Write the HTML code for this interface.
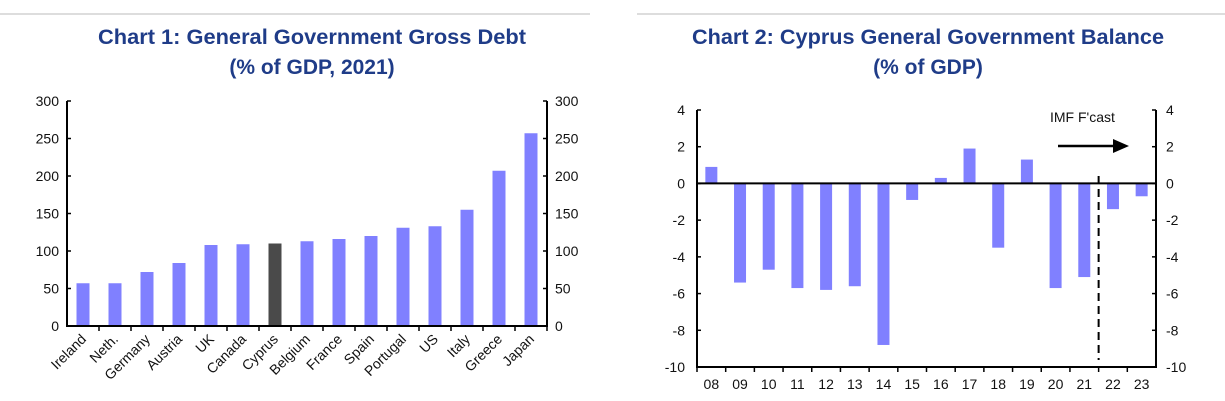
<!DOCTYPE html>
<html><head><meta charset="utf-8"><style>
body{margin:0;background:#fff;width:1225px;height:401px;overflow:hidden}
svg{display:block;font-family:"Liberation Sans",sans-serif}
</style></head><body>
<svg id="s" width="1225" height="401">
<line x1="0" y1="14" x2="590" y2="14" stroke="#bbb"/>
<line x1="637" y1="14" x2="1225" y2="14" stroke="#bbb"/>
<g font-family="Liberation Sans,sans-serif" font-weight="bold" font-size="21" fill="#1f3c88" text-anchor="middle">
<text x="312" y="44" textLength="428" lengthAdjust="spacingAndGlyphs">Chart 1: General Government Gross Debt</text>
<text x="312" y="74">(% of GDP, 2021)</text>
<text x="928" y="44" textLength="472" lengthAdjust="spacingAndGlyphs">Chart 2: Cyprus General Government Balance</text>
<text x="928" y="74">(% of GDP)</text>
</g>
<g id="c1"></g>
<g id="c2"></g>
</svg>
<script>
const countries=["Ireland","Neth.","Germany","Austria","UK","Canada","Cyprus","Belgium","France","Spain","Portugal","US","Italy","Greece","Japan"];
const debt=[57,57,72,84,108,109,110,113,116,120,131,133,155,207,257];
const debtTicks=[0,50,100,150,200,250,300];
const years=["08","09","10","11","12","13","14","15","16","17","18","19","20","21","22","23"];
const balance=[0.9,-5.4,-4.7,-5.7,-5.8,-5.6,-8.8,-0.9,0.3,1.9,-3.5,1.3,-5.7,-5.1,-1.4,-0.7];
const balTicks=[4,2,0,-2,-4,-6,-8,-10];
const NS="http://www.w3.org/2000/svg";
function mk(p,t,a){const e=document.createElementNS(NS,t);for(const k in a)e.setAttribute(k,a[k]);p.appendChild(e);return e;}
(function(){
const g=document.getElementById('c1');
const L=67,R=547,T=101,B=326,max=300;
const y=v=>B-(v/max)*(B-T);
const bw=(R-L)/countries.length;
const x=i=>L+bw*(i+0.5);
countries.forEach((c,i)=>{
const r=mk(g,'rect',{x:x(i)-6.5,y:y(debt[i]),width:13,height:B-y(debt[i]),fill:c==="Cyprus"?"#4a4a4a":"#8080ff"});


const t=mk(g,'text',{x:x(i)+4,y:B+14,'font-size':14,fill:'#111','text-anchor':'end',transform:`rotate(-45 ${x(i)+4} ${B+14})`});
t.textContent=c;


const tk=mk(g,'line',{x1:L+bw*(i+1),x2:L+bw*(i+1),y1:B,y2:B+5,stroke:'#000','stroke-width':1.5});


});
debtTicks.forEach(v=>{
const a=mk(g,'text',{x:L-8,y:y(v)+5,'font-size':14,'text-anchor':'end',fill:'#111'});a.textContent=v;


const b=mk(g,'text',{x:R+8,y:y(v)+5,'font-size':14,fill:'#111'});b.textContent=v;


mk(g,'line',{x1:L,x2:L+4,y1:y(v),y2:y(v),stroke:'#000','stroke-width':1.5});
mk(g,'line',{x1:R-4,x2:R,y1:y(v),y2:y(v),stroke:'#000','stroke-width':1.5});
});
const ax=mk(g,'path',{d:`M${L} ${T}V${B}H${R}V${T}`,fill:'none',stroke:'#000','stroke-width':2});


})();
(function(){
const g=document.getElementById('c2');
const L=697,R=1156,T=110,B=367,vmax=4,vmin=-10;
const y=v=>T+(vmax-v)/(vmax-vmin)*(B-T);
const bw=(R-L)/years.length;
const x=i=>L+bw*(i+0.5);
years.forEach((yr,i)=>{
const v=balance[i];
const r=mk(g,'rect',{x:x(i)-6,y:Math.min(y(v),y(0)),width:12,height:Math.abs(y(v)-y(0)),fill:'#8080ff'});


const t=mk(g,'text',{x:x(i),y:B+22,'font-size':14,'text-anchor':'middle',fill:'#111'});t.textContent=yr;


mk(g,'line',{x1:L+bw*i,x2:L+bw*i,y1:B,y2:B+5,stroke:'#000','stroke-width':1.5});
});
balTicks.forEach(v=>{
const a=mk(g,'text',{x:L-12,y:y(v)+5,'font-size':14,'text-anchor':'end',fill:'#111'});a.textContent=v;


const b=mk(g,'text',{x:R+10,y:y(v)+5,'font-size':14,fill:'#111'});b.textContent=v;


mk(g,'line',{x1:L,x2:L+4,y1:y(v),y2:y(v),stroke:'#000','stroke-width':1.5});
mk(g,'line',{x1:R-4,x2:R,y1:y(v),y2:y(v),stroke:'#000','stroke-width':1.5});
});
const z=mk(g,'line',{x1:L,x2:R,y1:y(0),y2:y(0),stroke:'#000','stroke-width':2});


const ax=mk(g,'path',{d:`M${L} ${T}V${B}H${R}V${T}`,fill:'none',stroke:'#000','stroke-width':2});


const fx=L+bw*14;
const d=mk(g,'line',{x1:fx,x2:fx,y1:176,y2:360,stroke:'#000','stroke-width':2,'stroke-dasharray':'8,5'});


const ar=mk(g,'path',{d:`M1058 146H1115`,stroke:'#000','stroke-width':2.5});


mk(g,'path',{d:'M1113 139L1129 146L1113 153Z',fill:'#000'});
const lb=mk(g,'text',{x:1050,y:122,'font-size':14,fill:'#111'});lb.textContent="IMF F'cast";


})();
</script>
</body></html>
